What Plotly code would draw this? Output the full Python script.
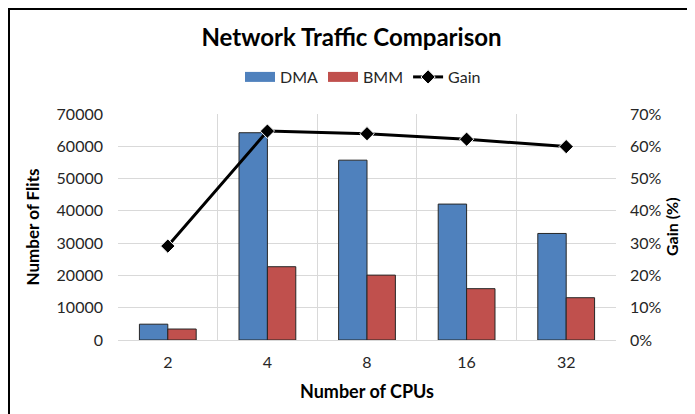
import plotly.graph_objects as go

cpus = ['2', '4', '8', '16', '32']
dma = [4900, 64200, 55700, 42100, 33000]
bmm = [3400, 22700, 20100, 15900, 13100]
gain = [0.291, 0.647, 0.639, 0.622, 0.599]

fnt = 'Lato'
blue = '#4f81bd'
red = '#c0504d'

# the page body has an 8px margin, so the figure is a bit smaller and shifted
W, H = 687, 406
ml, mt, mr, mb = 110, 106, 79, 74

fig = go.Figure()
fig.add_trace(go.Bar(x=cpus, y=dma, name='DMA', showlegend=False,
                     marker=dict(color=blue, line=dict(color='#262626', width=1))))
fig.add_trace(go.Bar(x=cpus, y=bmm, name='BMM', showlegend=False,
                     marker=dict(color=red, line=dict(color='#262626', width=1))))
# wide legend keys like the excel ones
fig.add_trace(go.Scatter(x=[None], y=[None], name='DMA', mode='lines',
                         line=dict(color=blue, width=12)))
fig.add_trace(go.Scatter(x=[None], y=[None], name='BMM', mode='lines',
                         line=dict(color=red, width=12)))
fig.add_trace(go.Scatter(x=cpus, y=gain, name='Gain', yaxis='y2', mode='lines+markers',
                         line=dict(color='black', width=3),
                         marker=dict(symbol='diamond', size=11, color='black',
                                     line=dict(color='white', width=1))))

pw = W - ml - mr
ph = H - mt - mb

fig.update_layout(
    width=W, height=H,
    margin=dict(l=ml, r=mr, t=mt, b=mb),
    paper_bgcolor='white', plot_bgcolor='white',
    font=dict(family=fnt, size=16, color='#262626'),
    title=dict(text='<b>Network Traffic Comparison</b>', x=0.5, xanchor='center',
               y=1 - 30 / H, yanchor='middle', font=dict(size=24, color='black')),
    barmode='group', bargap=0.43, bargroupgap=0,
    legend=dict(orientation='h', x=0.5 - 4 / pw, xanchor='center', y=1 + 37 / ph, yanchor='middle',
                font=dict(size=16), traceorder='normal', itemwidth=30),
    xaxis=dict(type='category', tickson='boundaries', showgrid=True, gridcolor='#d9d9d9',
               showline=True, linecolor='#d9d9d9', ticks='', ticklen=0, ticklabelstandoff=8,
               title=dict(text='<b>Number of CPUs</b>', font=dict(size=18, color='black'), standoff=15)),
    yaxis=dict(range=[0, 70000], dtick=10000, showgrid=True, gridcolor='#d9d9d9',
               zeroline=False, ticks='', tickformat='d', ticklabelstandoff=14,
               title=dict(text='<b>Number of Flits</b>', font=dict(size=17, color='black'), standoff=12)),
    yaxis2=dict(range=[0, 0.7], dtick=0.1, overlaying='y', side='right', showgrid=False,
                zeroline=False, tickformat='.0%', ticks='', ticklabelstandoff=13),
    annotations=[dict(text='<b>Gain (%)</b>', xref='paper', yref='paper',
                      x=1 + 55 / pw, y=0.5, xanchor='center', yanchor='middle',
                      textangle=-90, showarrow=False, font=dict(size=16, color='black'))],
    shapes=[dict(type='rect', xref='paper', yref='paper',
                 x0=(1 - ml) / pw, x1=(W + 20 - ml) / pw,
                 y0=-(mb + 20) / ph, y1=1 + (mt - 1) / ph,
                 line=dict(color='black', width=2), fillcolor='rgba(0,0,0,0)')],
)

fig.write_html('out.html')
